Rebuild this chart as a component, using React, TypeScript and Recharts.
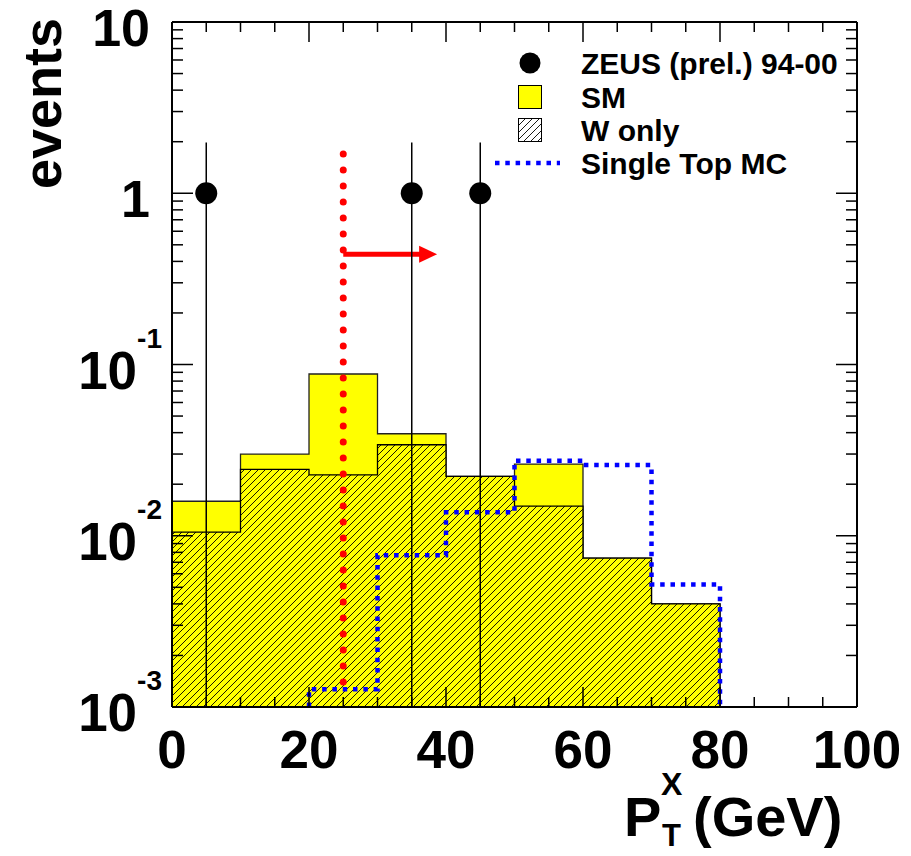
import React from "react";
import {
  Area, ComposedChart, ErrorBar, Label, Line, ReferenceLine, Scatter, XAxis, YAxis,
} from "recharts";

// histogram bins (GeV)
const binEdges = [0, 10, 20, 30, 40, 50, 60, 70, 80];
const smValues = [0.0159, 0.030, 0.088, 0.0394, 0.0222, 0.0262, 0.0074, 0.0040];
const wOnlyValues = [0.0105, 0.0244, 0.0227, 0.034, 0.0222, 0.0149, 0.0074, 0.0040];
const singleTopValues: (number | null)[] = [null, null, 0.00127, 0.0077, 0.0137, 0.0274, 0.0259, 0.0052];

// ZEUS data points
const dataX = [5, 35, 45];
const dataEvents = [1, 1, 1];
const dataErrLow = [0.999, 0.999, 0.999];
const dataErrHigh = [0.98, 0.98, 0.98];

// cut line + arrow
const cutX = 25;
const cutRange = [0.0014, 1.7];
const arrowEndX = 38.7;
const arrowLevel = 0.44;

const Y_MIN = 0.001;
const Y_MAX = 10;

const xTicks = [0, 5, 10, 15, 20, 25, 30, 35, 40, 45, 50, 55, 60, 65, 70, 75, 80, 85, 90, 95, 100];
const xLabels = [0, 20, 40, 60, 80, 100];
const decades = [0.001, 0.01, 0.1, 1];
const yTicks = [...decades.flatMap((d) => [1, 2, 3, 4, 5, 6, 7, 8, 9].map((m) => +(m * d).toPrecision(3))), 10];
const yLabels = [
  { value: 10, base: "10", exp: "" },
  { value: 1, base: "1", exp: "" },
  { value: 0.1, base: "10", exp: "-1" },
  { value: 0.01, base: "10", exp: "-2" },
  { value: 0.001, base: "10", exp: "-3" },
];

const FONT = "'Liberation Sans', Arial, Helvetica, sans-serif";

function steps(values: (number | null)[]) {
  const pts: { x: number; y: number }[] = [];
  let lastHi = 0;
  values.forEach((v, i) => {
    if (v == null) return;
    const lo = binEdges[i];
    const hi = binEdges[i + 1];
    if (!pts.length) pts.push({ x: lo, y: Y_MIN });
    pts.push({ x: lo, y: v }, { x: hi, y: v });
    lastHi = hi;
  });
  pts.push({ x: lastHi, y: Y_MIN });
  return pts;
}

const smData = steps(smValues);
const wData = steps(wOnlyValues);
const topData = steps(singleTopValues);
const points = dataX.map((x, i) => ({ x, y: dataEvents[i], err: [dataErrLow[i], dataErrHigh[i]] }));

const isDecade = (v: number) => Math.abs(Math.log10(v) - Math.round(Math.log10(v))) < 1e-6;

function BottomTick({ x, y, payload }: any) {
  const v = payload.value;
  const major = xLabels.includes(v);
  return (
    <g>
      <line x1={x} x2={x} y1={y} y2={y - (major ? 20 : 10)} stroke="#000" strokeWidth={1.5} />
      {major && (
        <text x={x} y={y + 61} textAnchor="middle" fontSize={53} fontWeight="bold" fontFamily={FONT} fill="#000">
          {v}
        </text>
      )}
    </g>
  );
}

function TopTick({ x, y, payload }: any) {
  const major = xLabels.includes(payload.value);
  return <line x1={x} x2={x} y1={y} y2={y + (major ? 20 : 10)} stroke="#000" strokeWidth={1.5} />;
}

function LeftTick({ x, y, payload }: any) {
  const v = payload.value;
  const major = isDecade(v);
  const lbl = yLabels.find((l) => Math.abs(l.value - v) < v * 1e-6);
  return (
    <g>
      <line x1={x} x2={x + (major ? 21 : 11)} y1={y} y2={y} stroke="#000" strokeWidth={1.5} />
      {lbl && !lbl.exp && (
        <text x={x - 22} y={y + 24} textAnchor="end" fontSize={52} fontWeight="bold" fontFamily={FONT} fill="#000">
          {lbl.base}
        </text>
      )}
      {lbl && lbl.exp && (
        <text x={x - 10} y={y + 24} textAnchor="end" fontSize={53} fontWeight="bold" fontFamily={FONT} fill="#000">
          <tspan>{lbl.base}</tspan>
          <tspan fontSize={28} dy={-41}>{lbl.exp}</tspan>
        </text>
      )}
    </g>
  );
}

function RightTick({ x, y, payload }: any) {
  const major = isDecade(payload.value);
  return <line x1={x} x2={x - (major ? 21 : 11)} y1={y} y2={y} stroke="#000" strokeWidth={1.5} />;
}

function DataDot({ cx, cy }: any) {
  return <circle cx={cx} cy={cy} r={11} fill="#000" />;
}

function ArrowShape({ x1, y1, x2, y2 }: any) {
  return (
    <g>
      <line x1={x1} y1={y1} x2={x2 - 16} y2={y2} stroke="#ff0000" strokeWidth={5} />
      <polygon points={`${x2},${y2} ${x2 - 18},${y2 - 8.5} ${x2 - 18},${y2 + 8.5}`} fill="#ff0000" />
    </g>
  );
}

function XTitle() {
  return (
    <g fontFamily={FONT} fontWeight="bold" fill="#000">
      <text x={624} y={836} fontSize={56}>P</text>
      <text x={661} y={795} fontSize={32}>X</text>
      <text x={662} y={846} fontSize={31}>T</text>
      <text x={693} y={836} fontSize={56}>(GeV)</text>
    </g>
  );
}

function YTitle() {
  return (
    <text
      transform="translate(61, 18) rotate(-90)"
      textAnchor="end"
      fontSize={54}
      fontWeight="bold"
      fontFamily={FONT}
      fill="#000"
    >
      events
    </text>
  );
}

function LegendBox() {
  const rows = [
    { y: 63, label: "ZEUS (prel.) 94-00" },
    { y: 97, label: "SM" },
    { y: 130, label: "W only" },
    { y: 163, label: "Single Top MC" },
  ];
  return (
    <svg width={911} height={856} style={{ position: "absolute", left: 0, top: 0, pointerEvents: "none" }}>
      <defs>
        <pattern id="hatchLeg" patternUnits="userSpaceOnUse" width={7} height={7}>
          <rect width={7} height={7} fill="#fff" />
          <path d="M-1,1 l2,-2 M0,7 l7,-7 M6,8 l2,-2" stroke="#000" strokeWidth={0.9} />
        </pattern>
      </defs>
      <circle cx={530} cy={63} r={10.5} fill="#000" />
      <rect x={518.5} y={85.5} width={23} height={23} fill="#ffff00" stroke="#000" strokeWidth={1} />
      <rect x={518.5} y={118.5} width={23} height={23} fill="url(#hatchLeg)" stroke="#000" strokeWidth={1} />
      <line x1={495} x2={560} y1={163} y2={163} stroke="#0000ff" strokeWidth={4.5} strokeDasharray="4.5 5.8" />
      {rows.map((r) => (
        <text key={r.label} x={581} y={r.y + 11} fontSize={30} fontWeight="bold" fontFamily={FONT} fill="#000">
          {r.label}
        </text>
      ))}
    </svg>
  );
}

export default function App() {
  return (
    <div style={{ position: "absolute", left: 0, top: 0, width: 911, height: 856, background: "#fff" }}>
      <ComposedChart width={911} height={856} margin={{ top: 0, right: 0, bottom: 0, left: 0 }}>
        <defs>
          <pattern id="hatch" patternUnits="userSpaceOnUse" width={7} height={7}>
            <rect width={7} height={7} fill="#ffff00" />
            <path d="M-1,1 l2,-2 M0,7 l7,-7 M6,8 l2,-2" stroke="#000" strokeWidth={0.9} />
          </pattern>
        </defs>
        <XAxis
          xAxisId="b"
          dataKey="x"
          type="number"
          domain={[0, 100]}
          ticks={xTicks}
          interval={0}
          height={149}
          tickSize={0}
          tickMargin={0}
          tickLine={false}
          axisLine={{ stroke: "#000", strokeWidth: 2 }}
          tick={BottomTick}
          allowDataOverflow
        >
          <Label content={XTitle} />
        </XAxis>
        <XAxis
          xAxisId="t"
          orientation="top"
          dataKey="x"
          type="number"
          domain={[0, 100]}
          ticks={xTicks}
          interval={0}
          height={22}
          tickSize={0}
          tickMargin={0}
          tickLine={false}
          axisLine={{ stroke: "#000", strokeWidth: 2 }}
          tick={TopTick}
          allowDataOverflow
        />
        <YAxis
          yAxisId="l"
          type="number"
          scale="log"
          domain={[Y_MIN, Y_MAX]}
          ticks={yTicks}
          interval={0}
          width={172}
          tickSize={0}
          tickMargin={0}
          tickLine={false}
          axisLine={{ stroke: "#000", strokeWidth: 2 }}
          tick={LeftTick}
          allowDataOverflow
        >
          <Label content={YTitle} />
        </YAxis>
        <YAxis
          yAxisId="r"
          orientation="right"
          type="number"
          scale="log"
          domain={[Y_MIN, Y_MAX]}
          ticks={yTicks}
          interval={0}
          width={54}
          tickSize={0}
          tickMargin={0}
          tickLine={false}
          axisLine={{ stroke: "#000", strokeWidth: 2 }}
          tick={RightTick}
          allowDataOverflow
        />
        <Area
          xAxisId="b"
          yAxisId="l"
          data={smData}
          dataKey="y"
          type="linear"
          baseValue={Y_MIN}
          fill="#ffff00"
          fillOpacity={1}
          stroke="#222"
          strokeWidth={1.3}
          isAnimationActive={false}
        />
        <Area
          xAxisId="b"
          yAxisId="l"
          data={wData}
          dataKey="y"
          type="linear"
          baseValue={Y_MIN}
          fill="url(#hatch)"
          fillOpacity={1}
          stroke="#000"
          strokeWidth={1.3}
          isAnimationActive={false}
        />
        <Line
          xAxisId="b"
          yAxisId="l"
          data={topData}
          dataKey="y"
          type="linear"
          stroke="#0000ff"
          strokeWidth={4.5}
          strokeDasharray="4.5 5.8"
          dot={false}
          isAnimationActive={false}
        />
        <ReferenceLine
          xAxisId="b"
          yAxisId="l"
          segment={[{ x: cutX, y: cutRange[0] }, { x: cutX, y: cutRange[1] }]}
          stroke="#ff0000"
          strokeWidth={7}
          strokeDasharray="0 16"
          strokeLinecap="round"
        />
        <ReferenceLine
          xAxisId="b"
          yAxisId="l"
          segment={[{ x: cutX, y: arrowLevel }, { x: arrowEndX, y: arrowLevel }]}
          shape={ArrowShape}
        />
        <Scatter
          xAxisId="b"
          yAxisId="l"
          data={points}
          dataKey="y"
          shape={DataDot}
          isAnimationActive={false}
        >
          <ErrorBar dataKey="err" direction="y" width={0} stroke="#000" strokeWidth={1.5} />
        </Scatter>
      </ComposedChart>
      <LegendBox />
    </div>
  );
}
